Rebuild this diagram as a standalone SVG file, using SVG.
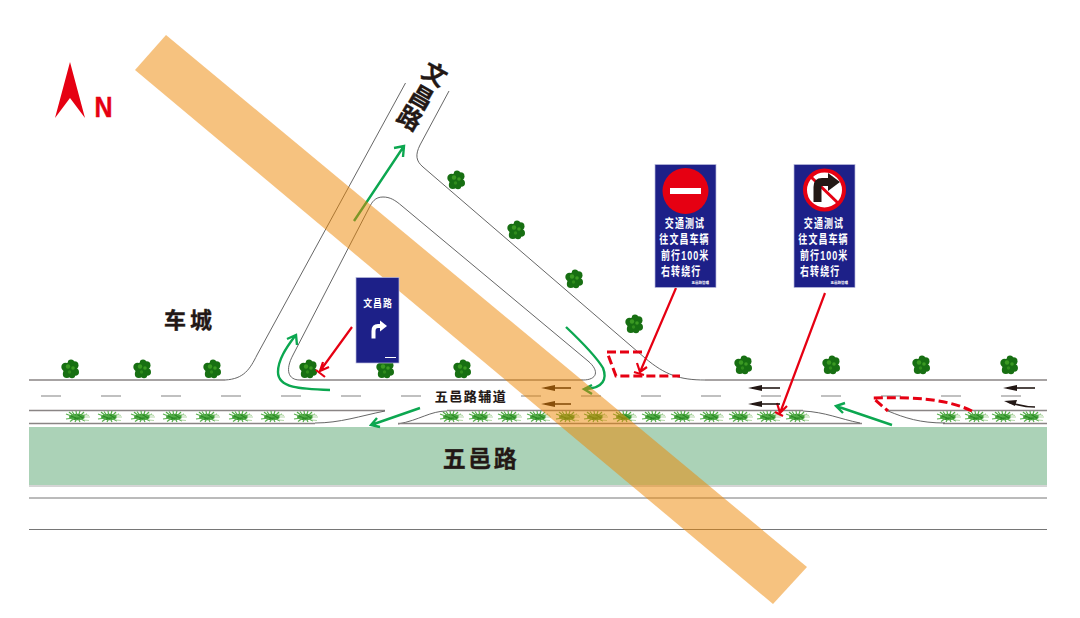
<svg xmlns="http://www.w3.org/2000/svg" width="1080" height="618" viewBox="0 0 1080 618">
<style>
.cjk{font-family:"Liberation Sans","Noto Sans CJK SC",sans-serif;font-weight:700}
.lbl{fill:#231815;stroke:#231815;stroke-width:.35}
.road{fill:none;stroke:#555;stroke-width:.9}
.kerb{fill:none;stroke:#8a8585;stroke-width:1.5}
.thin{fill:none;stroke:#666;stroke-width:.9}
.dash{stroke:#c0c0c0;stroke-width:2.2;fill:none}
.green{fill:none;stroke:#0ca750;stroke-width:2.4}
.red{fill:none;stroke:#e60012;stroke-width:2.2}
.reddash{fill:none;stroke:#e60012;stroke-width:3;stroke-dasharray:9 4}
.blk{fill:none;stroke:#231815;stroke-width:1.6}
.sign{fill:#1d2088;stroke:#b9bbdc;stroke-width:.7}
.st{font-size:12.500px;fill:#fff;letter-spacing:1.5px}
</style>
<defs>
<g id="tree">
<circle r="6.800" fill="#176f12"/>
<circle cx="-4.500" cy="-2" r="4.200" fill="#176f12"/><circle cx="4.500" cy="-3.800" r="4" fill="#176f12"/><circle cx="5.200" cy="3" r="3.800" fill="#176f12"/><circle cx="-3.200" cy="5" r="4" fill="#176f12"/><circle cx="1" cy="-6.400" r="3.200" fill="#176f12"/><circle cx="2" cy="6" r="3.200" fill="#176f12"/>
<circle cx="-2" cy="-2.500" r="2.200" fill="#3a9a22"/><circle cx="3" cy="-1" r="1.800" fill="#3a9a22"/><circle cx="-.5" cy="3" r="1.700" fill="#2f8c1c"/>
</g>
<g id="shrub" fill="none">
<ellipse rx="8" ry="3.200" fill="#3f9c38"/>
<path stroke="#55ad4a" stroke-width="1.200" d="M-3 0L-11 -3M-2 0L-8 -5M-1 0L-5 -5.500M0 0L-1 -6M1 0L3 -6M2 0L7 -5M3 0L10 -3M-3 1L-11 2M-2 1L-7 4.500M0 1L-2 5M1 1L3 5M2 1L8 4"/>
<path stroke="#b4d8a8" stroke-width="1.200" d="M6 -3L12 -1.500M7 0L13 0M7 3L12 3.500"/>
<path stroke="#2a8a24" stroke-width="1.200" d="M-6 -1L-1 1M1 -2L6 1M-3 2L3 1"/>
</g>
</defs>
<rect width="1080" height="618" fill="#fff"/>
<g id="road-surface">
<rect x="29" y="427" width="1018" height="58" fill="#abd2b7"/>
<path d="M29 486H1047" fill="none" stroke="#aaa" stroke-width="1"/>
<path class="thin" d="M29 498H1047M29 529.500H1047"/>
</g>
<g id="road-lines">
<path class="kerb" d="M29 380H225"/>
<path class="road" d="M225 380C244 379 250 369 257 355L405.500 83"/>
<path class="road" d="M449 91L420 145C415 155 416 161 423 167L645 358C665 375 680 380 705 380"/>
<path class="kerb" d="M705 380H1047"/>
<path class="road" d="M383 197C375 197 372 202 369 208L293 355C285 370 288 380 300 380"/>
<path class="road" d="M383 197C390 197 395 200 402 206L588 361C600 371 597 380 583 380"/>
<path class="kerb" d="M300 380H583"/>
<path class="kerb" d="M29 410.500H385"/>
<path class="road" d="M385 411C360 416 340 423 315 423"/>
<path class="kerb" d="M29 423.500H315"/>
<path class="road" d="M398 424C420 420 430 411 447 411"/>
<path class="kerb" d="M447 410.500H803M398 423.500H862"/>
<path class="road" d="M803 411C825 412 840 419 860 423"/>
<path class="kerb" d="M888 410.500H1047M943 423.500H1047"/>
<path class="road" d="M888 411C905 418 920 423 945 423"/>
<path id="lane-dashes" class="dash" d="M41 396H61M101 396H121M161 396H181M221 396H241M281 396H301M341 396H361M401 396H421M521 396H541M581 396H601M641 396H661M701 396H721M761 396H781M821 396H841M881 396H901M941 396H961M1001 396H1021"/>
</g>
<g id="trees">
<use href="#tree" x="70" y="369"/><use href="#tree" x="142" y="369"/><use href="#tree" x="212" y="369"/><use href="#tree" x="308" y="369"/><use href="#tree" x="385" y="369"/><use href="#tree" x="462" y="369"/><use href="#tree" x="743" y="365"/><use href="#tree" x="831" y="365"/><use href="#tree" x="921" y="365"/><use href="#tree" x="1009" y="365"/><use href="#tree" x="456" y="180"/><use href="#tree" x="516" y="230"/><use href="#tree" x="574" y="279"/><use href="#tree" x="634" y="324"/>
</g>
<g id="shrubs">
<use href="#shrub" x="77" y="417"/><use href="#shrub" x="109" y="417"/><use href="#shrub" x="142" y="417"/><use href="#shrub" x="174" y="417"/><use href="#shrub" x="207" y="417"/><use href="#shrub" x="240" y="417"/><use href="#shrub" x="272" y="417"/><use href="#shrub" x="305" y="417"/>
<use href="#shrub" x="451" y="417"/><use href="#shrub" x="480" y="417"/><use href="#shrub" x="509" y="417"/><use href="#shrub" x="538" y="417"/><use href="#shrub" x="567" y="417"/><use href="#shrub" x="595" y="417"/><use href="#shrub" x="624" y="417"/><use href="#shrub" x="653" y="417"/><use href="#shrub" x="682" y="417"/><use href="#shrub" x="711" y="417"/><use href="#shrub" x="740" y="417"/><use href="#shrub" x="768" y="417"/><use href="#shrub" x="797" y="417"/>
<use href="#shrub" x="948" y="417"/><use href="#shrub" x="976" y="417"/><use href="#shrub" x="1003" y="417"/><use href="#shrub" x="1031" y="417"/>
</g>
<g id="connectors">
<path class="green" d="M354 221L404 146M394 148L404 146L403 157"/>
<path class="green" d="M330 390C300 389 278 388 278 372C278 360 286 348 295 336M287 339L296 335L297 345"/>
<path class="green" d="M420 408L371 425M377 418L371 425L380 427"/>
<path class="green" d="M566 327C585 345 597 358 603 368C607 378 604 389 584 389M592 385L584 389L592 394"/>
<path class="green" d="M892 425L836 406M845 403L836 406L843 413"/>
<path class="red" d="M352 327L320 371M323 362L320 371L329 367M316 370L325 377"/>
<path class="red" d="M676 288L640 372M637 363L640 372L647 367M634 372L644 375"/>
<path class="red" d="M825 293L780 413M777 403L780 413L787 406M775 412L783 416"/>
<path class="reddash" d="M642 352H607L616 376H680"/>
<path class="reddash" d="M972 411C945 398 910 397 873 398L888 411"/>
<path class="blk" d="M780 388H752"/><path fill="#231815" d="M748 388L762 385V391Z"/>
<path class="blk" d="M780 404H752"/><path fill="#231815" d="M748 404L762 401V407Z"/>
<path class="blk" d="M1035 388H1007"/><path fill="#231815" d="M1003 388L1017 385V391Z"/>
<path class="blk" d="M1035 407C1022 407 1015 404 1008 402"/><path fill="#231815" d="M1004 401L1017 400L1015 406Z"/>
<path class="blk" d="M571 388H545"/><path fill="#231815" d="M541 388L555 385V391Z"/>
<path class="blk" d="M571 404H545"/><path fill="#231815" d="M541 404L555 401V407Z"/>
</g>
<g id="labels">
<text class="cjk lbl" x="471" y="401" font-size="13" text-anchor="middle" letter-spacing="1.500" style="stroke-width:.15">五邑路辅道</text>
<text class="cjk lbl" x="481" y="467" font-size="23" text-anchor="middle" letter-spacing="2.500">五邑路</text>
<text class="cjk lbl" x="190" y="328" font-size="22" text-anchor="middle" letter-spacing="4">车城</text>
<text class="cjk lbl" font-size="24" text-anchor="middle" transform="translate(435 74) rotate(30)" y="9">文</text>
<text class="cjk lbl" font-size="24" text-anchor="middle" transform="translate(422 97) rotate(30)" y="9">昌</text>
<text class="cjk lbl" font-size="24" text-anchor="middle" transform="translate(410 118) rotate(30)" y="9">路</text>
</g>
<g id="band"><path d="M135 70L166 35L807 567L773 604Z" fill="#ed8500" fill-opacity=".5"/></g>
<g id="north">
<path d="M70 62L55 118L70 98L85 118Z" fill="#e60012"/>
<text font-family="Liberation Sans,sans-serif" font-weight="700" font-size="25" text-anchor="middle" fill="#e60012" stroke="#e60012" stroke-width=".4" transform="translate(103.500 117) scale(1 1.150)">N</text>
</g>
<g id="sign-left">
<rect class="sign" x="356" y="277.500" width="43" height="85.500"/>
<text class="cjk" font-size="10.500" fill="#fff" text-anchor="middle" letter-spacing="1" transform="translate(378 306.500) scale(.85 1)">文昌路</text>
<path d="M373.500 338.500V331Q373.500 326 378 326H384" fill="none" stroke="#fff" stroke-width="4"/><path d="M380 320.500L387 326L380 331.500Z" fill="#fff"/>
<path d="M385 357.500H396" stroke="#fff" stroke-width="1"/>
</g>
<g id="sign-noentry">
<rect class="sign" x="655" y="164.500" width="61" height="123"/>
<circle cx="685.500" cy="191" r="23" fill="#e60012"/>
<rect x="670" y="188" width="31" height="6" fill="#fff"/>
<text class="cjk st" text-anchor="middle" transform="translate(685 228) scale(.72 1)">交通测试</text>
<text class="cjk st" text-anchor="middle" transform="translate(684.500 244) scale(.72 1)">往文昌车辆</text>
<text class="cjk st" transform="translate(661 260) scale(.72 1)">前行100米</text>
<text class="cjk st" transform="translate(661 276) scale(.72 1)">右转绕行</text>
<text class="cjk" x="709" y="283.500" font-size="3.500" fill="#fff" text-anchor="end">五邑路管理</text>
</g>
<g id="sign-noright">
<rect class="sign" x="794" y="164.500" width="61" height="123"/>
<circle cx="824.500" cy="190" r="19.500" fill="#fff" stroke="#e60012" stroke-width="4"/>
<path d="M810 176L839 204" stroke="#e60012" stroke-width="3"/>
<path d="M817.500 202V187Q817.500 182 822 182H830" fill="none" stroke="#231815" stroke-width="8"/>
<path d="M828 173L840 182L828 191Z" fill="#231815"/>
<text class="cjk st" text-anchor="middle" transform="translate(824 228) scale(.72 1)">交通测试</text>
<text class="cjk st" text-anchor="middle" transform="translate(823.500 244) scale(.72 1)">往文昌车辆</text>
<text class="cjk st" transform="translate(800 260) scale(.72 1)">前行100米</text>
<text class="cjk st" transform="translate(800 276) scale(.72 1)">右转绕行</text>
<text class="cjk" x="848" y="283.500" font-size="3.500" fill="#fff" text-anchor="end">五邑路管理</text>
</g>
</svg>
